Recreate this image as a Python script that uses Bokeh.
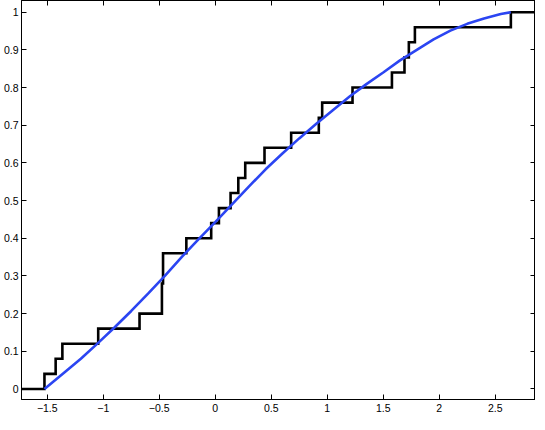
from bokeh.plotting import figure
from bokeh.models import Range1d, FixedTicker, LinearAxis
from bokeh.embed import file_html
from bokeh.resources import INLINE

# --- data -------------------------------------------------------------
# sorted sample values (ECDF jumps of 1/25 each)
samples = [-1.525, -1.425, -1.365, -1.045, -0.676, -0.476, -0.476, -0.466, -0.466,
           -0.258, -0.036, 0.033, 0.137, 0.206, 0.268, 0.44, 0.678, 0.925, 0.955,
           1.226, 1.578, 1.69, 1.729, 1.783, 2.64]

# smooth fitted CDF
curve_x = [-1.525, -1.35, -1.2, -1.05, -0.9, -0.75, -0.6, -0.45, -0.3, -0.15, 0.0,
           0.15, 0.3, 0.45, 0.6, 0.75, 0.9, 1.05, 1.2, 1.35, 1.5, 1.65, 1.8, 1.95,
           2.1, 2.25, 2.4, 2.55, 2.64]
curve_y = [0.0, 0.043, 0.080, 0.121, 0.163, 0.207, 0.253, 0.300, 0.350, 0.397, 0.443,
           0.490, 0.537, 0.583, 0.625, 0.665, 0.703, 0.740, 0.776, 0.809, 0.840, 0.872,
           0.900, 0.928, 0.951, 0.969, 0.983, 0.995, 1.0]

x_limits = (-1.73, 2.86)
y_limits = (-0.028, 1.031)

x_ticks = [-1.5, -1, -0.5, 0, 0.5, 1, 1.5, 2, 2.5]
x_tick_labels = ["\u22121.5", "\u22121", "\u22120.5", "0", "0.5", "1", "1.5", "2", "2.5"]
y_ticks = [0, 0.1, 0.2, 0.3, 0.4, 0.5, 0.6, 0.7, 0.8, 0.9, 1]
y_tick_labels = ["0", "0.1", "0.2", "0.3", "0.4", "0.5", "0.6", "0.7", "0.8", "0.9", "1"]

# --- ECDF step series built from the samples ---------------------------
n = len(samples)
step_x = [x_limits[0]] + samples + [x_limits[1]]
step_y = [0.0] + [(i + 1) / n for i in range(n)] + [1.0]

# --- figure -----------------------------------------------------------
FONT = "Liberation Sans"
p = figure(width=535, height=414, output_backend="svg", toolbar_location=None,
           x_range=Range1d(*x_limits), y_range=Range1d(*y_limits),
           min_border_left=0, min_border_right=0, min_border_top=0, min_border_bottom=0)
p.background_fill_color = "white"
p.border_fill_color = "white"
p.grid.visible = False
p.outline_line_color = "black"
p.outline_line_width = 1

def style(ax, ticks, labels, show_labels=True):
    ax.ticker = FixedTicker(ticks=ticks)
    ax.major_tick_in = 5
    ax.major_tick_out = 0
    ax.minor_tick_line_color = None
    ax.axis_line_color = "black"
    ax.major_tick_line_color = "black"
    if show_labels:
        ax.major_label_overrides = {t: l for t, l in zip(ticks, labels)}
        ax.major_label_text_font = FONT
        ax.major_label_text_color = "black"
        ax.major_label_text_font_size = "10.5px"
        ax.major_label_standoff = 4
    else:
        ax.major_label_text_color = None
        ax.major_label_text_font_size = "1px"
        ax.major_label_standoff = 0

style(p.xaxis[0], x_ticks, x_tick_labels)
style(p.yaxis[0], y_ticks, y_tick_labels)
p.yaxis[0].major_label_standoff = 3

top_axis = LinearAxis()
style(top_axis, x_ticks, x_tick_labels, show_labels=False)
p.add_layout(top_axis, "above")
right_axis = LinearAxis()
style(right_axis, y_ticks, y_tick_labels, show_labels=False)
p.add_layout(right_axis, "right")

p.step(step_x, step_y, mode="after", line_color="black", line_width=2.6,
       line_join="miter")
p.line(curve_x, curve_y, line_color="#2b45f2", line_width=2.6)

open("out.html", "w").write(file_html(p, INLINE))
